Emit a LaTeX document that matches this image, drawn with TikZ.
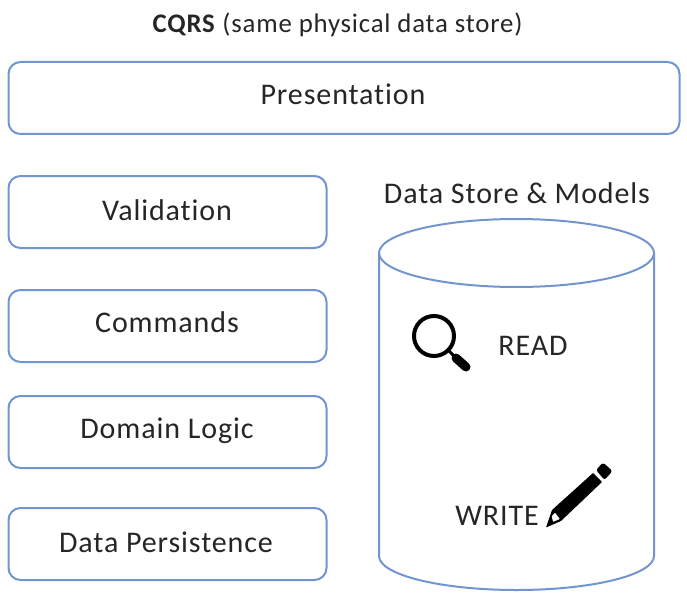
\documentclass[tikz,border=0pt]{standalone}
\usepackage{fontspec}
\setmainfont{Carlito}[LetterSpace=3,Ligatures=NoCommon]
\definecolor{boxblue}{HTML}{7295D2}
\definecolor{txt}{HTML}{262626}
\tikzset{
  x=1pt,y=-1pt,
  boxnode/.style={draw=boxblue,line width=2pt,rounded corners=12pt,fill=white,inner sep=0pt,text=txt},
  lab/.style={text=txt,inner sep=0pt,font=\fontsize{30}{34}\selectfont},
}
\begin{document}
\begin{tikzpicture}
\useasboundingbox (0,0) rectangle (687,604);
\node[lab,font=\fontsize{26.8}{30}\selectfont] (title) at (337.5,25) {\textbf{CQRS} (same physical data store)};
\node[boxnode,minimum width=671pt,minimum height=72pt] (pres) at (344,98) {};
\node[lab] (prest) at (343,94) {Presentation};
\node[boxnode,minimum width=318pt,minimum height=72pt] (val) at (167.5,212) {};
\node[lab] (valt) at (167,210) {Validation};
\node[boxnode,minimum width=318pt,minimum height=72pt] (com) at (167.5,326) {};
\node[lab] (comt) at (167,322) {Commands};
\node[boxnode,minimum width=318pt,minimum height=72pt] (dom) at (167.5,432) {};
\node[lab] (domt) at (167,431) {Domain Logic};
\node[boxnode,minimum width=318pt,minimum height=72pt] (per) at (167.5,544) {};
\node[lab] (pert) at (166,542) {Data Persistence};
\node[lab] (dsm) at (517,193) {Data Store \& Models};
% cylinder
\draw[draw=boxblue,line width=2pt] (379,253) arc[x radius=137.5,y radius=34,start angle=180,end angle=360]
  -- (654,556) arc[x radius=137.5,y radius=34,start angle=0,end angle=180] -- cycle;
\draw[draw=boxblue,line width=2pt] (379,253) arc[x radius=137.5,y radius=34,start angle=180,end angle=0];
\node[lab] (read) at (533,346) {READ};
\node[lab] (write) at (497,516) {WRITE};
% magnifier
\draw[black,line width=4pt] (434,336) circle[radius=20];
\draw[black,line width=3pt] (449,351) -- (456,358);
\draw[black,line width=9pt,line cap=round] (456,358) -- (466,367);
% pencil
\fill[black,even odd rule,rounded corners=0.6pt] (546,527.5) -- (552,510) -- (593,473) -- (602,482) -- (561,521) -- cycle
  (553,522) -- (560,519) -- (555,512.5) -- (551.5,516) -- cycle;
\fill[black,rounded corners=2.5pt] (596,470) -- (603,462.5) -- (612.5,471) -- (604.5,480) -- cycle;
\end{tikzpicture}
\end{document}
